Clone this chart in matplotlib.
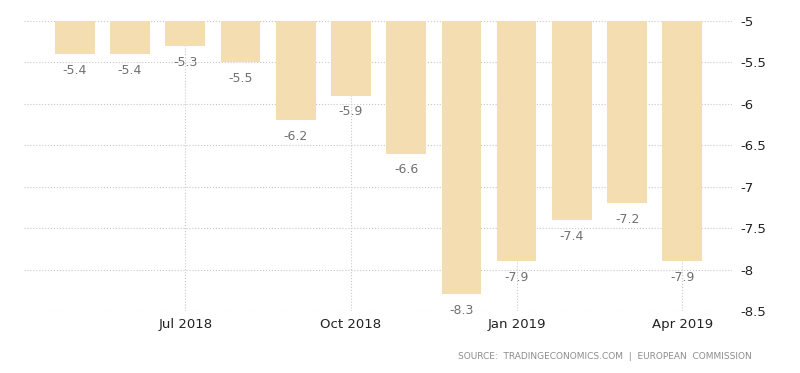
import matplotlib.pyplot as plt
import numpy as np

months = ["May 2018", "Jun 2018", "Jul 2018", "Aug 2018", "Sep 2018", "Oct 2018",
          "Nov 2018", "Dec 2018", "Jan 2019", "Feb 2019", "Mar 2019", "Apr 2019"]
values = [-5.4, -5.4, -5.3, -5.5, -6.2, -5.9, -6.6, -8.3, -7.9, -7.4, -7.2, -7.9]
tick_labels = ["Jul 2018", "Oct 2018", "Jan 2019", "Apr 2019"]
y_ticks = [-5, -5.5, -6, -6.5, -7, -7.5, -8, -8.5]
base = -5

fig = plt.figure(figsize=(8, 3.73), dpi=100)
ax = fig.add_axes([0.03, 0.166, 0.885, 0.778])

x = np.arange(len(months))
heights = [v - base for v in values]
ax.bar(x, heights, bottom=base, width=0.72, color="#F4DDB1", zorder=2)

for xi, v in zip(x, values):
    ax.text(xi, v - 0.12, "{:g}".format(v), ha="center", va="top",
            fontsize=9, color="#707070", zorder=3)

ax.set_ylim(-8.5, -5)
ax.set_xlim(-0.92, 11.9)
ax.set_yticks(y_ticks)
ax.set_yticklabels(["{:g}".format(t) for t in y_ticks])
ax.yaxis.tick_right()
ax.set_xticks([months.index(m) for m in tick_labels])
ax.set_xticklabels(tick_labels)
ax.tick_params(axis="both", length=0, labelsize=9.5, colors="#222222")
ax.tick_params(axis="y", pad=6)
ax.tick_params(axis="x", pad=5)

ax.grid(True, axis="both", linestyle=":", color="#C8C8C8", linewidth=0.8, zorder=0)
for s in ax.spines.values():
    s.set_visible(False)

fig.text(0.94, 0.045, "SOURCE:  TRADINGECONOMICS.COM  |  EUROPEAN  COMMISSION",
         ha="right", va="center", fontsize=6.5, color="#8C8C8C")

fig.savefig("out.png", dpi=100)
